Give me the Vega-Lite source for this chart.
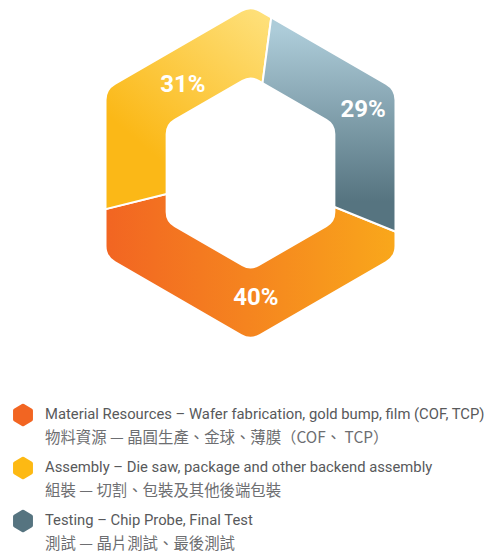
{
  "$schema": "https://vega.github.io/schema/vega-lite/v6.json",
  "width": 485,
  "height": 346,
  "padding": {"left": 8, "top": 0, "right": 0, "bottom": 206},
  "autosize": {"type": "none"},
  "background": "white",
  "config": {"view": {"stroke": null}},
  "data": {
    "values": [
      {"order": 1, "en": "Material Resources – Wafer fabrication, gold bump, film (COF, TCP)", "zh": "物料資源 — 晶圓生產、金球、薄膜（COF、 TCP）", "share": 0.40},
      {"order": 2, "en": "Assembly – Die saw, package and other backend assembly", "zh": "組裝 — 切割、包裝及其他後端包裝", "share": 0.31},
      {"order": 3, "en": "Testing – Chip Probe, Final Test", "zh": "測試 — 晶片測試、最後測試", "share": 0.29}
    ]
  },
  "layer": [
    {
      "mark": {"type": "arc", "outerRadius": 168, "innerRadius": 70, "stroke": "white", "strokeWidth": 2},
      "encoding": {
        "theta": {"field": "share", "type": "quantitative", "stack": true, "scale": {"range": [1.955, 8.238]}},
        "order": {"field": "order", "type": "quantitative"},
        "color": {
          "field": "en", "type": "nominal",
          "scale": {
            "domain": ["Material Resources – Wafer fabrication, gold bump, film (COF, TCP)", "Assembly – Die saw, package and other backend assembly", "Testing – Chip Probe, Final Test"],
            "range": ["#F26522", "#FDB913", "#567480"]
          },
          "legend": {
            "orient": "none", "legendX": 3.5, "legendY": 403.5, "title": null, "padding": 0,
            "symbolType": "M0.088,-0.949Q0,-1,-0.088,-0.949L-0.778,-0.551Q-0.866,-0.5,-0.866,-0.398L-0.866,0.398Q-0.866,0.5,-0.778,0.551L-0.088,0.949Q0,1,0.088,0.949L0.778,0.551Q0.866,0.5,0.866,0.398L0.866,-0.398Q0.866,-0.5,0.778,-0.551Z",
            "symbolSize": 529, "symbolStrokeWidth": 0, "symbolOpacity": 1,
            "labelFont": "Roboto", "labelFontSize": 14.8, "labelColor": "#58595b",
            "labelOffset": 10.5, "labelLimit": 600, "rowPadding": 30
          }
        }
      }
    },
    {
      "mark": {"type": "point", "opacity": 0, "filled": true, "size": 529},
      "encoding": {
        "shape": {
          "field": "zh", "type": "nominal",
          "scale": {
            "domain": ["物料資源 — 晶圓生產、金球、薄膜（COF、 TCP）", "組裝 — 切割、包裝及其他後端包裝", "測試 — 晶片測試、最後測試"],
            "range": [
              "M0.088,-0.949Q0,-1,-0.088,-0.949L-0.778,-0.551Q-0.866,-0.5,-0.866,-0.398L-0.866,0.398Q-0.866,0.5,-0.778,0.551L-0.088,0.949Q0,1,0.088,0.949L0.778,0.551Q0.866,0.5,0.866,0.398L0.866,-0.398Q0.866,-0.5,0.778,-0.551Z",
              "M0.088,-0.949Q0,-1,-0.088,-0.949L-0.778,-0.551Q-0.866,-0.5,-0.866,-0.398L-0.866,0.398Q-0.866,0.5,-0.778,0.551L-0.088,0.949Q0,1,0.088,0.949L0.778,0.551Q0.866,0.5,0.866,0.398L0.866,-0.398Q0.866,-0.5,0.778,-0.551Z",
              "M0.088,-0.949Q0,-1,-0.088,-0.949L-0.778,-0.551Q-0.866,-0.5,-0.866,-0.398L-0.866,0.398Q-0.866,0.5,-0.778,0.551L-0.088,0.949Q0,1,0.088,0.949L0.778,0.551Q0.866,0.5,0.866,0.398L0.866,-0.398Q0.866,-0.5,0.778,-0.551Z"
            ]
          },
          "legend": {
            "orient": "none", "legendX": 3.5, "legendY": 426.5, "title": null, "padding": 0,
            "symbolSize": 529, "symbolStrokeWidth": 0, "symbolOpacity": 0, "symbolFillColor": "transparent", "symbolStrokeColor": "transparent",
            "labelFont": "Noto Sans CJK TC", "labelFontSize": 15.4, "labelColor": "#6d6e71",
            "labelOffset": 10.5, "labelLimit": 600, "rowPadding": 30
          }
        }
      }
    },
    {
      "mark": {"type": "arc", "outerRadius": 168, "innerRadius": 70, "stroke": "white", "strokeWidth": 2,
        "fill": {"gradient": "linear", "x1": 0, "y1": 0.5, "x2": 1, "y2": 0.5, "stops": [{"offset": 0.06, "color": "#F26522"}, {"offset": 0.5, "color": "#F5841F"}, {"offset": 0.96, "color": "#F9A71B"}]}},
      "encoding": {
        "theta": {"field": "share", "type": "quantitative", "stack": true},
        "order": {"field": "order", "type": "quantitative"},
        "opacity": {"condition": {"test": "datum.order === 1", "value": 1}, "value": 0}
      }
    },
    {
      "mark": {"type": "arc", "outerRadius": 168, "innerRadius": 70, "stroke": "white", "strokeWidth": 2,
        "fill": {"gradient": "linear", "x1": 0.9, "y1": 0, "x2": 0.35, "y2": 0.7, "stops": [{"offset": 0, "color": "#FEE07A"}, {"offset": 1, "color": "#FBB817"}]}},
      "encoding": {
        "theta": {"field": "share", "type": "quantitative", "stack": true},
        "order": {"field": "order", "type": "quantitative"},
        "opacity": {"condition": {"test": "datum.order === 2", "value": 1}, "value": 0}
      }
    },
    {
      "mark": {"type": "arc", "outerRadius": 168, "innerRadius": 70, "stroke": "white", "strokeWidth": 2,
        "fill": {"gradient": "linear", "x1": 0.5, "y1": 0.1, "x2": 0.5, "y2": 0.85, "stops": [{"offset": 0, "color": "#ADCCD9"}, {"offset": 1, "color": "#567480"}]}},
      "encoding": {
        "theta": {"field": "share", "type": "quantitative", "stack": true},
        "order": {"field": "order", "type": "quantitative"},
        "opacity": {"condition": {"test": "datum.order === 3", "value": 1}, "value": 0}
      }
    },
    {
      "data": {"values": [{"m": 1}]},
      "mark": {"type": "point", "filled": true, "fill": "white", "opacity": 1, "strokeWidth": 0, "size": 115600,
        "shape": "M-1,-1L1,-1L1,1L-1,1ZM0.052,-0.948Q0,-0.978,-0.052,-0.948L-0.795,-0.519Q-0.847,-0.489,-0.847,-0.429L-0.847,0.429Q-0.847,0.489,-0.795,0.519L-0.052,0.948Q0,0.978,0.052,0.948L0.795,0.519Q0.847,0.489,0.847,0.429L0.847,-0.429Q0.847,-0.489,0.795,-0.519Z"},
      "encoding": {}
    },
    {
      "data": {"values": [{"m": 1}]},
      "mark": {"type": "point", "filled": true, "fill": "white", "opacity": 1, "strokeWidth": 0, "size": 38416,
        "shape": "M0.088,-0.949Q0,-1,-0.088,-0.949L-0.778,-0.551Q-0.866,-0.5,-0.866,-0.398L-0.866,0.398Q-0.866,0.5,-0.778,0.551L-0.088,0.949Q0,1,0.088,0.949L0.778,0.551Q0.866,0.5,0.866,0.398L0.866,-0.398Q0.866,-0.5,0.778,-0.551Z"},
      "encoding": {}
    },
    {
      "mark": {"type": "text", "radius": 125, "thetaOffset": -0.113, "font": "Roboto", "fontWeight": "bold", "fontSize": 24, "color": "white"},
      "encoding": {
        "theta": {"field": "share", "type": "quantitative", "stack": true},
        "order": {"field": "order", "type": "quantitative"},
        "text": {"field": "share", "type": "quantitative", "format": ".0%"},
        "opacity": {"condition": {"test": "datum.order === 1", "value": 1}, "value": 0}
      }
    },
    {
      "mark": {"type": "text", "radius": 111, "thetaOffset": 0.187, "font": "Roboto", "fontWeight": "bold", "fontSize": 24, "color": "white"},
      "encoding": {
        "theta": {"field": "share", "type": "quantitative", "stack": true},
        "order": {"field": "order", "type": "quantitative"},
        "text": {"field": "share", "type": "quantitative", "format": ".0%"},
        "opacity": {"condition": {"test": "datum.order === 2", "value": 1}, "value": 0}
      }
    },
    {
      "mark": {"type": "text", "radius": 129, "thetaOffset": 0.017, "font": "Roboto", "fontWeight": "bold", "fontSize": 24, "color": "white"},
      "encoding": {
        "theta": {"field": "share", "type": "quantitative", "stack": true},
        "order": {"field": "order", "type": "quantitative"},
        "text": {"field": "share", "type": "quantitative", "format": ".0%"},
        "opacity": {"condition": {"test": "datum.order === 3", "value": 1}, "value": 0}
      }
    }
  ]
}
